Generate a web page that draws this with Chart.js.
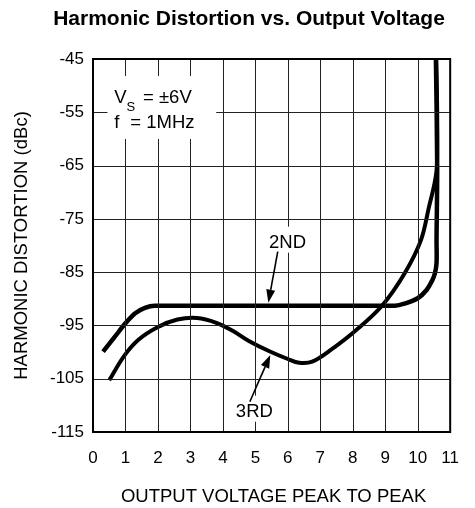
<!DOCTYPE html>
<html>
<head>
<meta charset="utf-8">
<script src="https://cdn.jsdelivr.net/npm/chart.js@4/dist/chart.umd.min.js"></script>
<style>
  html, body { margin: 0; padding: 0; background: #fff; }
</style>
</head>
<body>
<canvas id="hdChart" width="475" height="508"></canvas>
<script>
// values
const xTicks = [0, 1, 2, 3, 4, 5, 6, 7, 8, 9, 10, 11];
const yTicks = [-115, -105, -95, -85, -75, -65, -55, -45];

const secondX = [0.31, 0.65, 1.0, 1.3, 1.6, 1.9, 9.3, 9.6, 10.0, 10.28, 10.45, 10.53, 10.58, 10.58, 10.6, 10.56];
const secondY = [-99.9, -97.3, -94.6, -92.7, -91.7, -91.3, -91.3, -90.9, -89.9, -88.3, -86.5, -85.2, -83.3, -79, -65.3, -45];

const thirdX = [0.5, 0.95, 1.4, 2.0, 2.6, 3.2, 3.8, 4.3, 4.8, 5.45, 6.0, 6.35, 6.75, 7.3, 8.1, 8.9, 9.6, 10.1, 10.35, 10.52, 10.59, 10.6, 10.57];
const thirdY = [-105.3, -100.8, -97.7, -95.3, -93.9, -93.6, -94.5, -96.0, -97.9, -99.9, -101.3, -102.0, -101.8, -99.7, -95.9, -91.3, -85.2, -79, -72.7, -68.3, -65.2, -55, -45];

function toPoints(xs, ys) {
    return xs.map(function (x, i) { return { x: x, y: ys[i] }; });
}

const FONT = "'Liberation Sans', Arial, sans-serif";

// grid, frame, text and arrows
const annotations = {
    id: "annotations",
    afterDatasetsDraw: function (chart) {
        const c = chart.ctx, xs = chart.scales.x, ys = chart.scales.y;
        const area = chart.chartArea;
        c.save();
        // grid lines on the scale ticks
        c.strokeStyle = "#222";
        c.lineWidth = 1;
        c.beginPath();
        xs.ticks.forEach(function (t) {
            const px = Math.round(xs.getPixelForValue(t.value)) + 0.5;
            c.moveTo(px, area.top);
            c.lineTo(px, area.bottom);
        });
        ys.ticks.forEach(function (t) {
            const py = Math.round(ys.getPixelForValue(t.value)) + 0.5;
            c.moveTo(area.left, py);
            c.lineTo(area.right, py);
        });
        c.stroke();
        // frame
        c.strokeStyle = "#000";
        c.lineWidth = 2;
        c.strokeRect(area.left, area.top, area.right - area.left, area.bottom - area.top);
        // white box for the conditions text
        c.fillStyle = "#fff";
        const bx = xs.getPixelForValue(0.445), by = ys.getPixelForValue(-48.2);
        c.fillRect(bx, by, xs.getPixelForValue(3.795) - bx, ys.getPixelForValue(-60.0) - by);
        c.fillStyle = "#000";
        c.textBaseline = "alphabetic";
        c.textAlign = "left";
        c.font = "18.5px " + FONT;
        c.fillText("V", xs.getPixelForValue(0.652), ys.getPixelForValue(-53.26));
        c.fillText("= \u00b16V", xs.getPixelForValue(1.54), ys.getPixelForValue(-53.26));
        c.fillText("f", xs.getPixelForValue(0.652), ys.getPixelForValue(-58.0));
        c.fillText("= 1MHz", xs.getPixelForValue(1.147), ys.getPixelForValue(-58.0));
        c.font = "13px " + FONT;
        c.fillText("S", xs.getPixelForValue(1.03), ys.getPixelForValue(-54.76));

        // curve labels with white background
        c.font = "18.5px " + FONT;
        c.textAlign = "center";
        c.textBaseline = "middle";
        [["2ND", 5.99, -79.28], ["3RD", 4.97, -111.0]].forEach(function (l) {
            const px = xs.getPixelForValue(l[1]), py = ys.getPixelForValue(l[2]);
            const w = c.measureText(l[0]).width;
            c.fillStyle = "#fff";
            c.fillRect(px - w / 2 - 3, py - 15, w + 6, 26);
            c.fillStyle = "#000";
            c.fillText(l[0], px, py + 1);
        });

        // arrows
        c.strokeStyle = "#000";
        c.fillStyle = "#000";
        c.lineWidth = 1.6;
        [[5.69, -81.16, 5.40, -90.73], [4.83, -109.32, 5.46, -100.55]].forEach(function (a) {
            const x0 = xs.getPixelForValue(a[0]), y0 = ys.getPixelForValue(a[1]);
            const x1 = xs.getPixelForValue(a[2]), y1 = ys.getPixelForValue(a[3]);
            const ang = Math.atan2(y1 - y0, x1 - x0);
            const hl = 13, hw = 4.5;
            const hx = x1 - hl * Math.cos(ang), hy = y1 - hl * Math.sin(ang);
            c.beginPath();
            c.moveTo(x0, y0);
            c.lineTo(hx, hy);
            c.stroke();
            c.beginPath();
            c.moveTo(x1, y1);
            c.lineTo(hx + hw * Math.sin(ang), hy - hw * Math.cos(ang));
            c.lineTo(hx - hw * Math.sin(ang), hy + hw * Math.cos(ang));
            c.closePath();
            c.fill();
        });
        c.restore();
    },
    afterDraw: function (chart) {
        const c = chart.ctx, area = chart.chartArea;
        c.save();
        c.fillStyle = "#000";
        c.textAlign = "center";
        c.textBaseline = "alphabetic";
        c.font = "bold 21px " + FONT;
        c.fillText("Harmonic Distortion vs. Output Voltage", 249, 25);
        c.font = "18.5px " + FONT;
        c.fillText("OUTPUT VOLTAGE PEAK TO PEAK", (area.left + area.right) / 2 + 2, 501.5);
        c.translate(26.5, (area.top + area.bottom) / 2);
        c.rotate(-Math.PI / 2);
        c.fillText("HARMONIC DISTORTION (dBc)", 0, 0);
        c.restore();
    }
};

const ctx = document.getElementById("hdChart").getContext("2d");

new Chart(ctx, {
    type: "scatter",
    data: {
        datasets: [{
            label: "2ND",
            data: toPoints(secondX, secondY),
            showLine: true,
            borderColor: "#000",
            borderWidth: 4.5,
            pointRadius: 0,
            tension: 0.35
        }, {
            label: "3RD",
            data: toPoints(thirdX, thirdY),
            showLine: true,
            borderColor: "#000",
            borderWidth: 4,
            pointRadius: 0,
            tension: 0.35
        }]
    },
    options: {
        responsive: false,
        animation: false,
        layout: { padding: { top: 59, right: 11, bottom: 0, left: 0 } },
        plugins: {
            legend: { display: false },
            tooltip: { enabled: false }
        },
        scales: {
            x: {
                type: "linear",
                min: 0,
                max: 11,
                afterFit: function (s) { s.height = 76; },
                afterBuildTicks: function (s) { s.ticks = xTicks.map(function (v) { return { value: v }; }); },
                ticks: {
                    padding: 16,
                    color: "#000",
                    font: { family: FONT, size: 17 },
                    maxRotation: 0
                },
                grid: { display: false, drawTicks: false },
                border: { display: false }
            },
            y: {
                type: "linear",
                min: -115,
                max: -45,
                afterFit: function (s) { s.width = 93; },
                afterBuildTicks: function (s) { s.ticks = yTicks.map(function (v) { return { value: v }; }); },
                ticks: {
                    padding: 9,
                    color: "#000",
                    font: { family: FONT, size: 17 }
                },
                grid: { display: false, drawTicks: false },
                border: { display: false }
            }
        }
    },
    plugins: [annotations]
});
</script>
</body>
</html>
